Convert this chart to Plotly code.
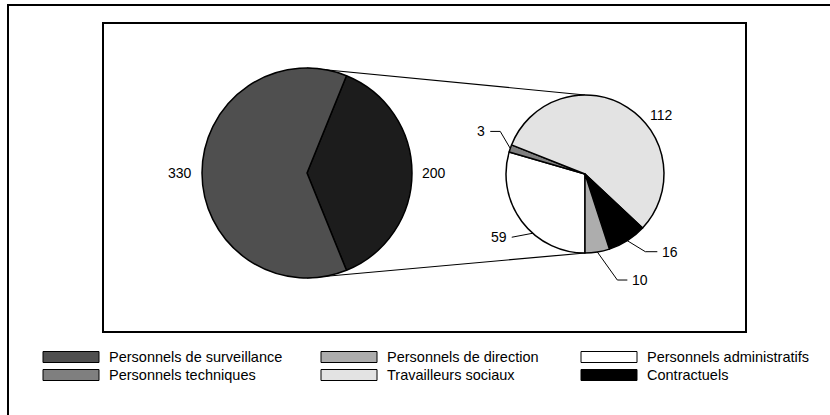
import math
import plotly.graph_objects as go

W, H = 830, 415

# ---- data ----
big_labels = ["Autres personnels", "Personnels de surveillance"]
big_values = [200, 330]

small_labels = ["Personnels administratifs", "Personnels techniques", "Travailleurs sociaux",
                "Contractuels", "Personnels de direction"]
small_values = [59, 3, 112, 16, 10]

legend_labels = ["Personnels de surveillance", "Personnels de direction", "Personnels administratifs",
                 "Personnels techniques", "Travailleurs sociaux", "Contractuels"]

# ---- styles ----
colors = {
    "Personnels de surveillance": "#4f4f4f",
    "Autres personnels": "#1c1c1c",
    "Personnels techniques": "#7f7f7f",
    "Personnels de direction": "#adadad",
    "Travailleurs sociaux": "#e3e3e3",
    "Personnels administratifs": "#ffffff",
    "Contractuels": "#000000",
}
FONT = "Liberation Sans, Arial, sans-serif"
FS_LAB = 14
FS_LEG = 14.5

big_c, big_r = (307, 173), 105
small_c, small_r = (585, 174), 79


def px(x):
    return x / W


def py(y):
    return 1 - y / H


def dom(c, r):
    return dict(x=[px(c[0] - r), px(c[0] + r)], y=[py(c[1] + r), py(c[1] - r)])


def pt(c, r, deg):
    a = math.radians(deg)
    return c[0] + r * math.sin(a), c[1] - r * math.cos(a)


big_rot = 90 - big_values[0] / sum(big_values) * 360 / 2
small_rot = 180

fig = go.Figure()
fig.add_trace(go.Pie(labels=big_labels, values=big_values, sort=False, direction="clockwise",
                     rotation=big_rot, domain=dom(big_c, big_r), textinfo="none", hoverinfo="label+value",
                     marker=dict(colors=[colors[l] for l in big_labels], line=dict(color="black", width=1.5)),
                     showlegend=False))
fig.add_trace(go.Pie(labels=small_labels, values=small_values, sort=False, direction="clockwise",
                     rotation=small_rot, domain=dom(small_c, small_r), textinfo="none", hoverinfo="label+value",
                     marker=dict(colors=[colors[l] for l in small_labels], line=dict(color="black", width=1.5)),
                     showlegend=False))

shapes = []
annots = []

# frames
shapes.append(dict(type="rect", xref="paper", yref="paper", x0=px(8), y0=py(5), x1=px(W + 10), y1=py(H + 10),
                   line=dict(color="black", width=2), layer="below"))
shapes.append(dict(type="rect", xref="paper", yref="paper", x0=px(103), y0=py(23), x1=px(746), y1=py(332),
                   line=dict(color="black", width=2), layer="below"))

# connectors between the pies
for d in (0, 180):
    x0, y0 = pt(big_c, big_r, d)
    x1, y1 = pt(small_c, small_r, d)
    shapes.append(dict(type="line", xref="paper", yref="paper", x0=px(x0), y0=py(y0), x1=px(x1), y1=py(y1),
                       line=dict(color="black", width=1.2), layer="below"))

# big pie labels
start = big_rot
for lab, v in zip(big_labels, big_values):
    span = v / sum(big_values) * 360
    mid = start + span / 2
    x, y = pt(big_c, big_r + 22, mid)
    annots.append(dict(x=px(x), y=py(y), xref="paper", yref="paper", text=str(v), showarrow=False,
                       xanchor="center", yanchor="middle", font=dict(size=FS_LAB, color="black", family=FONT)))
    start += span

# small pie labels with leader lines (offsets in px relative to the slice anchor)
lead = {
    "Personnels administratifs": dict(frac=0.39, pts=[(-21, 4)], anchor="right"),
    "Personnels techniques": dict(frac=0.5, pts=[(-10, -17), (-20, -17)], anchor="right"),
    "Travailleurs sociaux": dict(frac=0.5, pts=[], text=(34, 8), anchor="center"),
    "Contractuels": dict(frac=0.5, pts=[(18, 11), (30, 11)], anchor="left"),
    "Personnels de direction": dict(frac=0.5, pts=[(20, 28), (30, 28)], anchor="left"),
}
start = small_rot
for lab, v in zip(small_labels, small_values):
    span = v / sum(small_values) * 360
    spec = lead[lab]
    ang = start + span * spec["frac"]
    ax, ay = pt(small_c, small_r, ang)
    if spec["pts"]:
        path = "M %f,%f" % (px(ax), py(ay))
        for dx, dy in spec["pts"]:
            path += " L %f,%f" % (px(ax + dx), py(ay + dy))
        shapes.append(dict(type="path", xref="paper", yref="paper", path=path,
                           line=dict(color="black", width=1)))
        ex, ey = ax + spec["pts"][-1][0], ay + spec["pts"][-1][1]
        gap = -3 if spec["anchor"] == "right" else 3
        tx, ty = ex + gap, ey
    else:
        tx, ty = ax + spec["text"][0], ay + spec["text"][1]
    annots.append(dict(x=px(tx), y=py(ty), xref="paper", yref="paper", text=str(v), showarrow=False,
                       xanchor=spec["anchor"], yanchor="middle",
                       font=dict(size=FS_LAB, color="black", family=FONT)))
    start += span

# legend (3 columns x 2 rows)
col_x = [43, 321, 581]
row_y = [357, 375]
sw_w, sw_h = 56, 11
for i, lab in enumerate(legend_labels):
    cx = col_x[i % 3]
    cy = row_y[i // 3]
    shapes.append(dict(type="rect", xref="paper", yref="paper", x0=px(cx), x1=px(cx + sw_w),
                       y0=py(cy + sw_h / 2), y1=py(cy - sw_h / 2), fillcolor=colors[lab],
                       line=dict(color="black", width=1)))
    annots.append(dict(x=px(cx + sw_w + 8), y=py(cy), xref="paper", yref="paper", text=lab, showarrow=False,
                       xanchor="left", yanchor="middle", font=dict(size=FS_LEG, color="black", family=FONT)))

fig.update_layout(width=W, height=H, margin=dict(l=0, r=0, t=0, b=0), paper_bgcolor="white",
                  plot_bgcolor="white", shapes=shapes, annotations=annots, showlegend=False)
fig.write_html("out.html", config={"displayModeBar": False},
               post_script="document.body.style.margin='0px';document.body.style.overflow='hidden';")
